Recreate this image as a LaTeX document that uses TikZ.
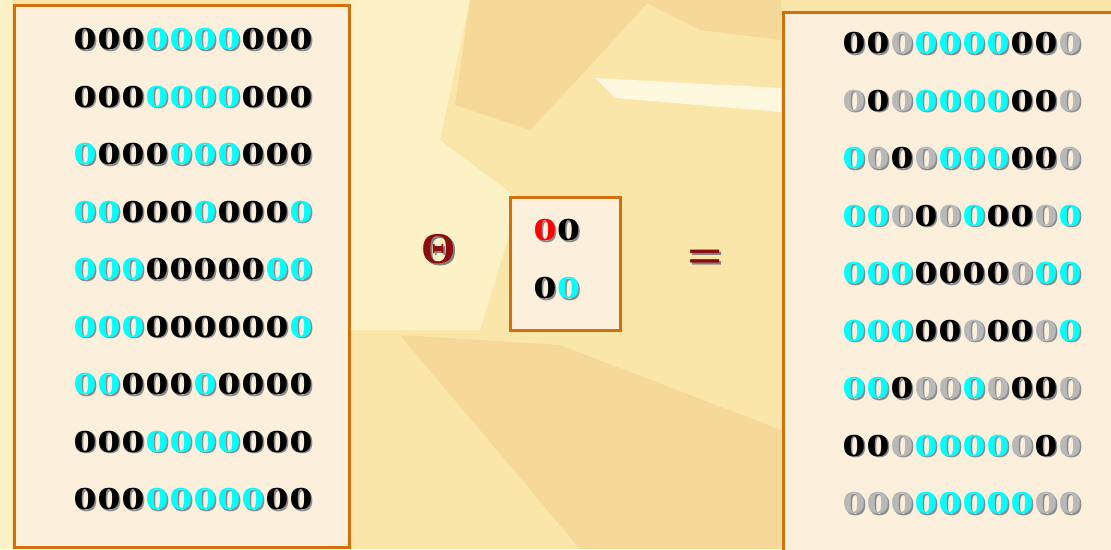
\documentclass[tikz,border=0pt]{standalone}
\usepackage{fontspec}
\setmainfont{Liberation Serif}
\definecolor{digB}{HTML}{000000}
\definecolor{digC}{HTML}{00FFFF}
\definecolor{digG}{HTML}{B8B8B8}
\definecolor{digR}{HTML}{FF0000}
\definecolor{bgbase}{HTML}{FAE6A8}
\definecolor{bgdark}{HTML}{F6D999}
\definecolor{bglight}{HTML}{FDF2C6}
\definecolor{bgwhite}{HTML}{FEF8DE}
\definecolor{boxfill}{HTML}{FCF0DC}
\definecolor{boxline}{HTML}{D2700C}
\definecolor{symred}{HTML}{8E0C0C}
\tikzset{
  panel/.style={draw=boxline, line width=2.5pt, fill=boxfill},
  digit/.style={inner sep=0pt, font=\fontsize{32}{32}\selectfont\bfseries},
  sym/.style={inner sep=0pt, text=symred},
}
\newcommand{\wzero}{\scalebox{1.46}[1]{0}}
\newcommand{\shz}[1]{\rlap{\hspace{1.6pt}\raisebox{-1.6pt}{\color{black!45}\wzero}}{\color{#1}\wzero}}
\begin{document}
\begin{tikzpicture}[x=1pt,y=-1pt]
\useasboundingbox (0,0) rectangle (1111,549);
% background
\fill[bgbase] (0,0) rectangle (1111,549);
\fill[bglight] (350,0) -- (470,0) -- (440,140) -- (350,175) -- cycle;
\fill[bgdark] (470,0) -- (650,0) -- (600,55) -- (530,130) -- (455,105) -- cycle;
\fill[bgwhite] (595,78) -- (781,88) -- (781,112) -- (615,98) -- cycle;
\fill[bgdark] (640,0) -- (781,0) -- (781,40) -- (700,30) -- cycle;
\fill[bglight] (350,175) -- (440,140) -- (520,200) -- (480,330) -- (350,330) -- cycle;
\fill[bgdark] (400,335) -- (560,345) -- (781,430) -- (781,549) -- (580,549) -- cycle;
\fill[bglight] (0,0) rectangle (12,549);
% panels
\node[panel, minimum width=335pt, minimum height=542pt, anchor=north west] (leftbox) at (13,4) {};
\node[panel, minimum width=340pt, minimum height=545pt, anchor=north west] (rightbox) at (782,11) {};
\node[panel, minimum width=110pt, minimum height=133pt, anchor=north west] (sebox) at (509,196) {};
% left image
\foreach \row [count=\j] in {
  {B,B,B,C,C,C,C,B,B,B},
  {B,B,B,C,C,C,C,B,B,B},
  {C,B,B,B,C,C,C,B,B,B},
  {C,C,B,B,B,C,B,B,B,C},
  {C,C,C,B,B,B,B,B,C,C},
  {C,C,C,B,B,B,B,B,B,C},
  {C,C,B,B,B,C,B,B,B,B},
  {B,B,B,C,C,C,C,B,B,B},
  {B,B,B,C,C,C,C,C,B,B}} {
  \foreach \c [count=\i] in \row {
    \node[digit] (L-\j-\i) at ({85+24*(\i-1)},{40+57.5*(\j-1)}) {\shz{dig\c}};
  }
}
% right image
\foreach \row [count=\j] in {
  {B,B,G,C,C,C,C,B,B,G},
  {G,B,G,C,C,C,C,B,B,G},
  {C,G,B,G,C,C,C,B,B,G},
  {C,C,G,B,G,C,B,B,G,C},
  {C,C,C,B,B,B,B,G,C,C},
  {C,C,C,B,B,G,B,B,G,C},
  {C,C,B,G,G,C,G,B,B,G},
  {B,B,G,C,C,C,C,G,B,G},
  {G,G,G,C,C,C,C,C,G,G}} {
  \foreach \c [count=\i] in \row {
    \node[digit] (R-\j-\i) at ({854+24*(\i-1)},{44+57.5*(\j-1)}) {\shz{dig\c}};
  }
}
% structuring element
\foreach \c/\i/\j in {R/1/1, B/2/1, B/1/2, C/2/2} {
  \node[digit] (S-\j-\i) at ({545+23.5*(\i-1)},{231+58*(\j-1)}) {\shz{dig\c}};
}
% operators
\node[sym, font=\fontsize{44}{44}\selectfont\bfseries] (theta) at (439,250)
  {\rlap{\hspace{2pt}\raisebox{-2pt}{\color{black!50}Θ}}Θ};
\node[sym, font=\fontsize{48}{48}\selectfont\bfseries] (equals) at (705,262)
  {\rlap{\hspace{2pt}\raisebox{-2pt}{\color{black!50}\scalebox{1.3}[1]{=}}}\scalebox{1.3}[1]{=}};
\end{tikzpicture}
\end{document}
